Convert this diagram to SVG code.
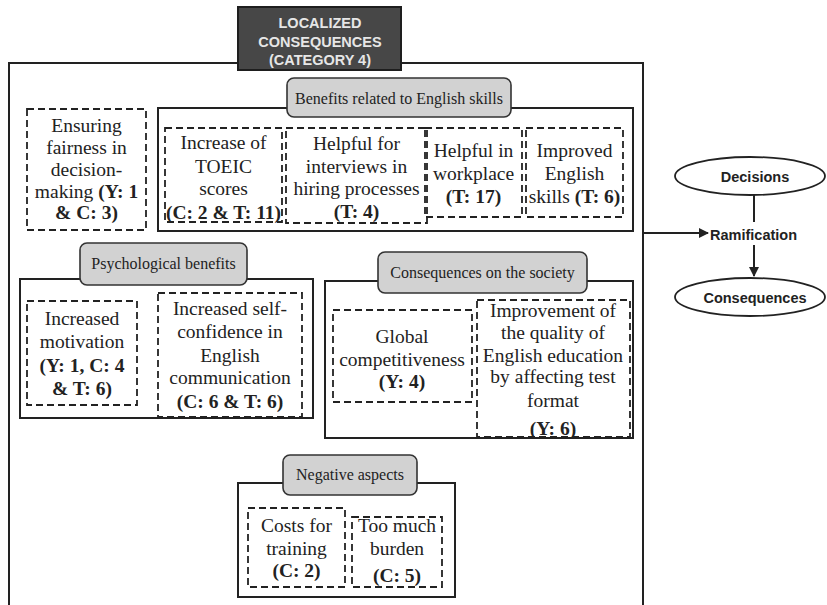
<svg xmlns="http://www.w3.org/2000/svg" width="827" height="605" viewBox="0 0 827 605">
  <style>
    .frame { fill: none; stroke: #222; stroke-width: 2; }
    .group { fill: none; stroke: #222; stroke-width: 2; }
    .item { fill: none; stroke: #222; stroke-width: 1.8; stroke-dasharray: 7 4; }
    .pill { fill: #d2d2d2; stroke: #333; stroke-width: 1.6; }
    .pill-text { font-family: "Liberation Serif", "Times New Roman", serif; font-size: 16px; fill: #222; text-anchor: middle; }
    .body { font-family: "Liberation Serif", "Times New Roman", serif; font-size: 19.5px; fill: #222; text-anchor: middle; }
    .b { font-weight: bold; }
    .title-box { fill: #474747; stroke: #1e1e1e; stroke-width: 2; }
    .title-text { font-family: "Liberation Sans", Arial, sans-serif; font-weight: bold; font-size: 14.5px; fill: #e6e6e6; text-anchor: middle; }
    .flow { font-family: "Liberation Sans", Arial, sans-serif; font-weight: bold; font-size: 14.5px; fill: #222; }
    .oval { fill: #fff; stroke: #222; stroke-width: 1.8; }
    .link { fill: none; stroke: #222; stroke-width: 2; }
  </style>
  <defs>
    <marker id="arrow" viewBox="0 0 10 10" refX="9" refY="5" markerWidth="5" markerHeight="5" orient="auto" markerUnits="strokeWidth">
      <path d="M0,0 L10,5 L0,10 Z" fill="#222"/>
    </marker>
  </defs>

  <rect width="827" height="605" fill="#fff"/>

  <!-- outer frame of the category -->
  <rect id="category-frame" class="frame" x="9" y="63" width="634" height="560"/>

  <g id="category-title">
    <rect class="title-box" x="238" y="7" width="163" height="63"/>
    <text class="title-text" x="320" y="28">LOCALIZED</text>
    <text class="title-text" x="320" y="47">CONSEQUENCES</text>
    <text class="title-text" x="320" y="65">(CATEGORY 4)</text>
  </g>

  <g id="ensuring-fairness">
    <rect class="item" x="27" y="109" width="119" height="121"/>
    <text class="body" x="86.5" y="132">Ensuring</text>
    <text class="body" x="86.5" y="154">fairness in</text>
    <text class="body" x="86.5" y="176">decision-</text>
    <text class="body" x="86.5" y="198">making <tspan class="b">(Y: 1</tspan></text>
    <text class="body b" x="86.5" y="219">&amp; C: 3)</text>
  </g>

  <!-- Benefits related to English skills -->
  <g id="benefits-english">
    <rect class="group" x="158" y="108" width="475" height="123"/>
    <rect class="pill" x="287" y="78" width="224" height="39" rx="7"/>
    <text class="pill-text" x="399" y="104">Benefits related to English skills</text>
  </g>
  <g id="toeic-scores">
    <rect class="item" x="165" y="128" width="117" height="94"/>
    <text class="body" x="223.5" y="149">Increase of</text>
    <text class="body" x="223.5" y="173">TOEIC</text>
    <text class="body" x="223.5" y="195">scores</text>
    <text class="body b" x="223.5" y="219">(C: 2 &amp; T: 11)</text>
  </g>
  <g id="hiring-interviews">
    <rect class="item" x="286" y="128" width="141" height="95"/>
    <text class="body" x="356.5" y="150">Helpful for</text>
    <text class="body" x="356.5" y="173">interviews in</text>
    <text class="body" x="356.5" y="195">hiring processes</text>
    <text class="body b" x="356.5" y="218">(T: 4)</text>
  </g>
  <g id="workplace">
    <rect class="item" x="425" y="128" width="97" height="89"/>
    <text class="body" x="473.5" y="157">Helpful in</text>
    <text class="body" x="473.5" y="180">workplace</text>
    <text class="body b" x="473.5" y="203">(T: 17)</text>
  </g>
  <g id="english-skills">
    <rect class="item" x="526" y="128" width="97" height="89"/>
    <text class="body" x="574.5" y="157">Improved</text>
    <text class="body" x="574.5" y="180">English</text>
    <text class="body" x="574.5" y="203">skills <tspan class="b">(T: 6)</tspan></text>
  </g>

  <!-- Psychological benefits -->
  <g id="psychological-benefits">
    <rect class="group" x="20" y="279" width="293" height="139"/>
    <rect class="pill" x="80" y="243" width="167" height="42" rx="7"/>
    <text class="pill-text" x="163.5" y="269">Psychological benefits</text>
  </g>
  <g id="motivation">
    <rect class="item" x="27" y="301" width="110" height="104"/>
    <text class="body" x="82" y="325">Increased</text>
    <text class="body" x="82" y="348">motivation</text>
    <text class="body b" x="82" y="372">(Y: 1, C: 4</text>
    <text class="body b" x="82" y="395">&amp; T: 6)</text>
  </g>
  <g id="self-confidence">
    <rect class="item" x="158" y="293" width="144" height="124"/>
    <text class="body" x="230" y="315">Increased self-</text>
    <text class="body" x="230" y="338">confidence in</text>
    <text class="body" x="230" y="362">English</text>
    <text class="body" x="230" y="384">communication</text>
    <text class="body b" x="230" y="408">(C: 6 &amp; T: 6)</text>
  </g>

  <!-- Consequences on the society -->
  <g id="society-consequences">
    <rect class="group" x="325" y="281" width="308" height="157"/>
    <rect class="pill" x="378" y="252" width="209" height="41" rx="7"/>
    <text class="pill-text" x="482.5" y="278">Consequences on the society</text>
  </g>
  <g id="global-competitiveness">
    <rect class="item" x="333" y="310" width="139" height="92"/>
    <text class="body" x="402" y="343">Global</text>
    <text class="body" x="402" y="366">competitiveness</text>
    <text class="body b" x="402" y="388">(Y: 4)</text>
  </g>
  <g id="education-quality">
    <rect class="item" x="477" y="300" width="153" height="137"/>
    <text class="body" x="553" y="317">Improvement of</text>
    <text class="body" x="553" y="339">the quality of</text>
    <text class="body" x="553" y="362">English education</text>
    <text class="body" x="553" y="383">by affecting test</text>
    <text class="body" x="553" y="407">format</text>
    <text class="body b" x="553" y="435">(Y: 6)</text>
  </g>

  <!-- Negative aspects -->
  <g id="negative-aspects">
    <rect class="group" x="238" y="483" width="217" height="114"/>
    <rect class="pill" x="283" y="455" width="134" height="40" rx="7"/>
    <text class="pill-text" x="350" y="480">Negative aspects</text>
  </g>
  <g id="training-costs">
    <rect class="item" x="248" y="508" width="97" height="79"/>
    <text class="body" x="296.5" y="532">Costs for</text>
    <text class="body" x="296.5" y="555">training</text>
    <text class="body b" x="296.5" y="577">(C: 2)</text>
  </g>
  <g id="burden">
    <rect class="item" x="352" y="517" width="90" height="70"/>
    <text class="body" x="397" y="532">Too much</text>
    <text class="body" x="397" y="555">burden</text>
    <text class="body b" x="397" y="582">(C: 5)</text>
  </g>

  <!-- legend flow on the right -->
  <g id="decisions">
    <ellipse class="oval" cx="750" cy="176" rx="75" ry="19"/>
    <text class="flow" x="755" y="182" text-anchor="middle">Decisions</text>
  </g>
  <g id="ramification">
    <text class="flow" x="710" y="240">Ramification</text>
  </g>
  <g id="consequences">
    <ellipse class="oval" cx="750" cy="297" rx="75" ry="19"/>
    <text class="flow" x="755" y="303" text-anchor="middle">Consequences</text>
  </g>

  <g id="connectors">
    <line class="link" x1="643" y1="233" x2="708" y2="233" marker-end="url(#arrow)"/>
    <line class="link" x1="754" y1="195" x2="754" y2="222"/>
    <line class="link" x1="754" y1="245" x2="754" y2="276" marker-end="url(#arrow)"/>
  </g>
</svg>
